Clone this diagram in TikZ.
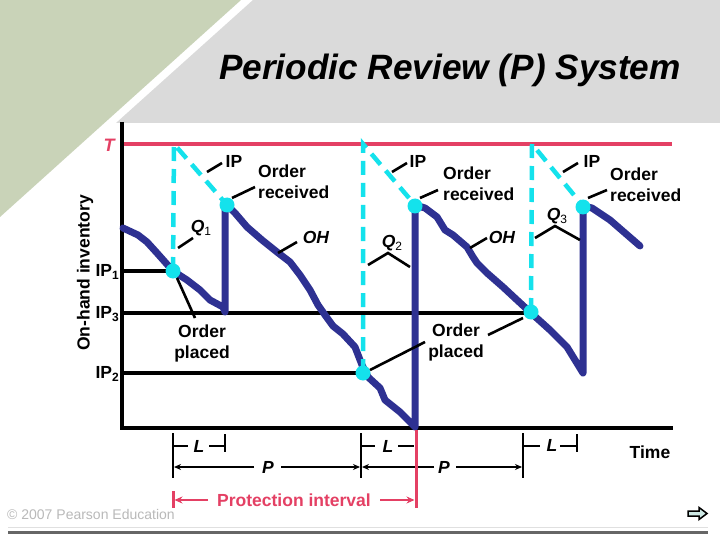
\documentclass[tikz,border=0pt]{standalone}
\usepackage{fontspec}
\setmainfont{Liberation Sans}
\usetikzlibrary{arrows.meta}
\definecolor{navyc}{RGB}{46,49,146}
\definecolor{cyanc}{RGB}{20,226,236}
\definecolor{redc}{RGB}{228,64,100}
\definecolor{greenbg}{RGB}{201,211,184}
\definecolor{graybg}{RGB}{218,218,218}
\definecolor{copyc}{RGB}{185,185,185}
\definecolor{arrowfill}{RGB}{205,232,228}
\newcommand\mysub[1]{\raisebox{-0.4ex}{\fontsize{12}{12}\selectfont #1}}
\tikzset{
  lab/.style={font=\fontsize{17.5}{21}\selectfont\bfseries, inner sep=0pt},
  ilab/.style={font=\fontsize{17.5}{21}\selectfont\bfseries\itshape, inner sep=0pt},
  leader/.style={draw=black, line width=2.6pt},
  axisline/.style={draw=black, line width=4.5pt},
  ohcurve/.style={draw=navyc, line width=7pt, line join=round, line cap=round},
  ipdash/.style={draw=cyanc, line width=4.5pt, dash pattern=on 14pt off 8pt},
  dot/.style={circle, fill=cyanc, minimum size=15pt, inner sep=0pt},
  brk/.style={draw=black, line width=2.6pt},
  parrow/.style={draw=black, line width=2pt, -{Stealth[length=7pt,width=6pt]}},
  rarrow/.style={draw=redc, line width=2.6pt, -{Stealth[length=8pt,width=7pt]}},
}
\begin{document}
\begin{tikzpicture}[x=1pt, y=-1pt]
\useasboundingbox (0,0) rectangle (720,540);
% background
\fill[white] (0,0) rectangle (720,540);
\fill[graybg] (253,0) -- (720,0) -- (720,123) -- (116,123) -- cycle;
\fill[greenbg] (0,0) -- (241,0) -- (0,217) -- cycle;
% title
\node[font=\fontsize{35.2}{40}\selectfont\bfseries\itshape, inner sep=0pt] (title) at (450,70) {Periodic Review (P) System};
% T line
\draw[draw=redc, line width=4.5pt] (122,144) -- (672,144);
\node[font=\fontsize{18}{20}\selectfont\bfseries\itshape, text=redc, inner sep=0pt] (tlab) at (109,145) {T};
% level lines
\draw[draw=black, line width=3.5pt] (122,271) -- (173,271);
\draw[draw=black, line width=3.5pt] (122,313) -- (531,313);
\draw[draw=black, line width=3.5pt] (122,373) -- (363,373);
% axes
\draw[axisline] (122,122) -- (122,430);
\draw[axisline] (120,428) -- (673,428);
% axis labels
\node[lab, rotate=90] (ylab) at (85,273) {On-hand inventory};
\node[lab, anchor=east] (ip1) at (119,272) {IP\mysub{1}};
\node[lab, anchor=east] (ip3) at (119,314) {IP\mysub{3}};
\node[lab, anchor=east] (ip2) at (119,374) {IP\mysub{2}};
% on-hand curve
\draw[ohcurve] (123,228) -- (138,235) -- (147,242) -- (157,253) -- (173,271) -- (187,280) -- (200,290) -- (210,300) -- (223,307) -- (225,312) -- (225,205);
\draw[ohcurve] (227,205) -- (235,213) -- (247,227) -- (262,240) -- (277,252) -- (290,262) -- (300,275) -- (310,290) -- (318,305) -- (325,315) -- (333,326) -- (343,334) -- (355,347) -- (362,365) -- (368,377) -- (380,388) -- (385,400) -- (400,412) -- (415,427) -- (415,205);
\draw[ohcurve] (415,205) -- (425,208) -- (437,217) -- (445,230) -- (453,235) -- (467,247) -- (473,257) -- (477,263) -- (487,273) -- (503,287) -- (517,300) -- (530,312) -- (550,330) -- (567,347) -- (575,360) -- (583,373) -- (583,206);
\draw[ohcurve] (583,206) -- (592,208) -- (610,220) -- (625,233) -- (640,246);
% inventory position dashed
\draw[ipdash] (173,271) -- (174,144) -- (227,205);
\draw[ipdash] (363,373) -- (363,144) -- (415,205);
\draw[ipdash] (531,312) -- (532,144) -- (583,206);
% dots
\node[dot] (op1) at (173,271) {};
\node[dot] (or1) at (227,205) {};
\node[dot] (op2) at (363,373) {};
\node[dot] (or2) at (415,206) {};
\node[dot] (op3) at (531,312) {};
\node[dot] (or3) at (583,207) {};
% labels cycle 1
\node[lab] (iplab1) at (234,161) {IP};
\draw[leader] (207,172) -- (222,163);
\node[lab, anchor=west, align=left] (orl1) at (258,182) {Order\\received};
\draw[leader] (232,198) -- (255,187);
\node[ilab] (q1) at (201,228) {Q\mysub{\normalfont\fontsize{12}{12}\selectfont 1}};
\draw[leader] (178,248) -- (193,238);
\node[ilab] (oh1) at (316,237) {OH};
\draw[leader] (278,253) -- (297,242);
\node[lab, align=center] (opl1) at (202,343) {Order\\placed};
\draw[leader] (177,278) -- (195,318);
% labels cycle 2
\node[lab] (iplab2) at (418,161) {IP};
\draw[leader] (392,172) -- (407,163);
\node[lab, anchor=west, align=left] (orl2) at (443,184) {Order\\received};
\draw[leader] (420,198) -- (438,190);
\node[ilab] (q2) at (392,243) {Q\mysub{\normalfont\fontsize{12}{12}\selectfont 2}};
\draw[leader, line join=miter] (368,265) -- (388,253) -- (410,267);
\node[ilab] (oh2) at (502,237) {OH};
\draw[leader] (470,248) -- (487,238);
\node[lab, align=center] (opl2) at (456,342) {Order\\placed};
\draw[leader] (370,370) -- (425,342);
\draw[leader] (488,335) -- (523,318);
% labels cycle 3
\node[lab] (iplab3) at (592,161) {IP};
\draw[leader] (563,172) -- (578,163);
\node[lab, anchor=west, align=left] (orl3) at (610,185) {Order\\received};
\draw[leader] (588,198) -- (607,190);
\node[ilab] (q3) at (557,216) {Q\mysub{\normalfont\fontsize{12}{12}\selectfont 3}};
\draw[leader, line join=miter] (535,238) -- (555,226) -- (580,240);
% time axis brackets
\node[lab] (time) at (650,452) {Time};
\draw[brk] (173,433) -- (173,478);
\draw[brk] (361,433) -- (361,478);
\draw[brk] (523,433) -- (523,478);
\draw[brk] (225,434) -- (225,452);
\draw[brk] (577,434) -- (577,452);
\node[ilab] (l1) at (199,446) {L};
\node[ilab] (l2) at (388,446) {L};
\node[ilab] (l3) at (552,445) {L};
\draw[brk] (173,446) -- (188,446);
\draw[brk] (209,446) -- (225,446);
\draw[brk] (361,446) -- (375,446);
\draw[brk] (398,446) -- (414,446);
\draw[brk] (523,446) -- (540,446);
\draw[brk] (560,446) -- (577,446);
\node[ilab] (p1) at (268,467) {P};
\node[ilab] (p2) at (444,467) {P};
\draw[parrow] (254,467) -- (174,467);
\draw[parrow] (281,467) -- (360,467);
\draw[parrow] (434,467) -- (362,467);
\draw[parrow] (456,467) -- (522,467);
% protection interval
\draw[draw=redc, line width=3pt] (416,430) -- (416,508);
\draw[draw=redc, line width=3pt] (173,491) -- (173,508);
\node[lab, text=redc] (prot) at (294,500) {Protection interval};
\draw[rarrow] (208,500) -- (174.5,500);
\draw[rarrow] (380,500) -- (414.5,500);
% footer
\node[font=\fontsize{14}{16}\selectfont, text=copyc, anchor=west, inner sep=0pt] (copy) at (7,514) {© 2007 Pearson Education};
\draw[draw=black!12, line width=1pt] (8,527.5) -- (708,527.5);
\draw[draw=black!60, line width=2.2pt] (8,532.5) -- (708,532.5);
\draw[draw=black, line width=1.5pt, fill=arrowfill, line join=miter] (688,511) -- (699,511) -- (699,507.5) -- (707,513.5) -- (699,519.5) -- (699,516) -- (688,516) -- cycle;
\end{tikzpicture}
\end{document}
